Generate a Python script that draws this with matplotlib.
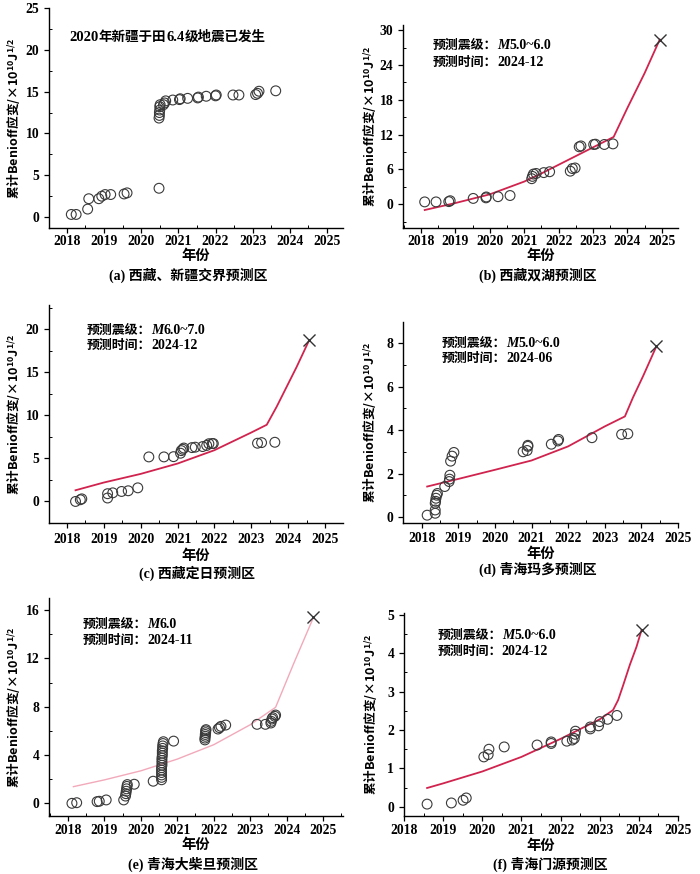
import matplotlib
matplotlib.use('Agg')
import matplotlib.pyplot as plt
from matplotlib.ticker import MultipleLocator
from matplotlib.offsetbox import TextArea, HPacker, AnchoredOffsetbox

plt.rcParams['font.family'] = ['Liberation Serif', 'Noto Sans CJK SC']
plt.rcParams['font.weight'] = 'bold'
plt.rcParams['mathtext.fontset'] = 'custom'
plt.rcParams['mathtext.rm'] = 'Liberation Serif:bold'
plt.rcParams['mathtext.it'] = 'Liberation Serif:italic:bold'
plt.rcParams['mathtext.bf'] = 'Liberation Serif:bold'

# ---------------- data ----------------
year_ticks = [2018, 2019, 2020, 2021, 2022, 2023, 2024, 2025]

a_year = [2018.12, 2018.25, 2018.56, 2018.59, 2018.86, 2018.94, 2019.03, 2019.18, 2019.54, 2019.62,
          2020.48, 2020.48, 2020.49, 2020.49, 2020.50, 2020.50, 2020.51, 2020.60, 2020.63, 2020.66,
          2020.85, 2021.03, 2021.05, 2021.25, 2021.52, 2021.54, 2021.75, 2022.00, 2022.02, 2022.47,
          2022.63, 2023.08, 2023.13, 2023.17, 2023.62]
a_val = [0.32, 0.32, 0.96, 2.2, 2.2, 2.5, 2.7, 2.7, 2.77, 2.9,
         3.45, 11.84, 12.16, 12.5, 12.8, 13.2, 13.44, 13.44, 13.65, 13.9,
         14.0, 14.05, 14.15, 14.2, 14.25, 14.35, 14.45, 14.5, 14.6, 14.6,
         14.6, 14.65, 14.8, 15.05, 15.1]

b_year = [2018.11, 2018.44, 2018.81, 2018.85, 2019.52, 2019.89, 2019.90, 2020.24, 2020.59, 2021.22,
          2021.24, 2021.27, 2021.35, 2021.57, 2021.74, 2022.34, 2022.40, 2022.48, 2022.60, 2022.65,
          2023.02, 2023.07, 2023.33, 2023.58]
b_val = [0.4, 0.4, 0.45, 0.6, 1.0, 1.1, 1.25, 1.3, 1.5, 4.4,
         4.8, 5.2, 5.3, 5.45, 5.6, 5.7, 6.15, 6.25, 9.9, 10.05,
         10.3, 10.35, 10.3, 10.4]
b_fit_year = [2018.11, 2019.0, 2020.0, 2021.0, 2021.5, 2022.0, 2022.5, 2023.0, 2023.6, 2024.0, 2024.5, 2024.94]
b_fit_val = [-1.0, 0.2, 1.7, 3.9, 5.3, 6.8, 8.3, 9.8, 11.6, 16.6, 22.6, 28.4]
b_pred = (2024.94, 28.4)

c_year = [2018.23, 2018.36, 2018.40, 2019.10, 2019.10, 2019.24, 2019.48, 2019.66, 2019.92, 2020.22,
          2020.63, 2020.89, 2021.08, 2021.10, 2021.14, 2021.17, 2021.39, 2021.48, 2021.68, 2021.79,
          2021.85, 2021.94, 2021.97, 2023.17, 2023.28, 2023.64]
c_val = [0.0, 0.2, 0.3, 0.4, 0.9, 1.0, 1.16, 1.24, 1.58, 5.17,
         5.17, 5.2, 5.6, 5.9, 6.06, 6.2, 6.25, 6.3, 6.37, 6.5,
         6.7, 6.72, 6.72, 6.76, 6.83, 6.87]
c_fit_year = [2018.23, 2019.0, 2020.0, 2021.0, 2022.0, 2023.0, 2023.42, 2023.69, 2023.96, 2024.23, 2024.57]
c_fit_val = [1.3, 2.2, 3.2, 4.4, 5.95, 8.0, 8.9, 11.0, 13.3, 15.6, 18.7]
c_pred = (2024.57, 18.7)

d_year = [2018.15, 2018.37, 2018.37, 2018.37, 2018.38, 2018.39, 2018.41, 2018.43, 2018.63, 2018.75,
          2018.76, 2018.77, 2018.79, 2018.83, 2018.88, 2020.77, 2020.88, 2020.90, 2020.90, 2021.54,
          2021.72, 2021.74, 2022.65, 2023.46, 2023.63]
d_val = [0.08, 0.17, 0.32, 0.63, 0.72, 0.86, 1.0, 1.08, 1.4, 1.63,
         1.74, 1.92, 2.57, 2.8, 2.97, 3.0, 3.06, 3.25, 3.3, 3.35,
         3.5, 3.57, 3.65, 3.8, 3.83]
d_fit_year = [2018.15, 2019.0, 2020.0, 2021.0, 2022.0, 2023.0, 2023.55, 2023.77, 2024.05, 2024.41]
d_fit_val = [1.4, 1.75, 2.17, 2.6, 3.25, 4.17, 4.63, 5.5, 6.5, 7.86]
d_pred = (2024.41, 7.86)

e_year = [2018.11, 2018.24, 2018.80, 2018.86, 2019.05, 2019.53, 2019.58, 2019.59, 2019.60, 2019.61,
          2019.62, 2019.63, 2019.82, 2020.34,
          2020.57, 2020.57, 2020.57, 2020.57, 2020.57, 2020.57, 2020.58, 2020.58, 2020.58, 2020.58,
          2020.59, 2020.59, 2020.59, 2020.60, 2020.60, 2020.61, 2020.62,
          2020.90,
          2021.76, 2021.76, 2021.77, 2021.77, 2021.78, 2021.78, 2021.79,
          2022.12, 2022.16, 2022.20, 2022.33, 2023.19, 2023.42,
          2023.57, 2023.58, 2023.60, 2023.62, 2023.68, 2023.70]
e_val = [0.0, 0.05, 0.14, 0.17, 0.28, 0.28, 0.6, 0.8, 1.0, 1.2,
         1.4, 1.55, 1.58, 1.83,
         1.95, 2.15, 2.35, 2.55, 2.75, 2.95, 3.15, 3.35, 3.55, 3.75,
         3.95, 4.15, 4.35, 4.55, 4.75, 4.95, 5.1,
         5.15,
         5.25, 5.4, 5.55, 5.7, 5.85, 6.0, 6.1,
         6.15, 6.26, 6.37, 6.48, 6.54, 6.54,
         6.65, 6.79, 6.98, 7.09, 7.2, 7.31]
e_fit_year = [2018.15, 2019.0, 2020.0, 2021.0, 2022.0, 2023.0, 2023.70, 2024.2, 2024.74]
e_fit_val = [1.38, 1.94, 2.69, 3.66, 4.85, 6.5, 7.95, 11.6, 15.4]
e_pred = (2024.74, 15.4)

f_year = [2018.59, 2019.21, 2019.51, 2019.59, 2020.04, 2020.15, 2020.17, 2020.56, 2021.40, 2021.76,
          2021.76, 2022.16, 2022.30, 2022.35, 2022.37, 2022.38, 2022.76, 2022.76, 2022.97, 2023.00,
          2023.20, 2023.44]
f_val = [0.07, 0.1, 0.17, 0.23, 1.3, 1.36, 1.5, 1.56, 1.61, 1.65,
         1.69, 1.71, 1.74, 1.78, 1.89, 1.97, 2.03, 2.08, 2.11, 2.22,
         2.28, 2.38]
f_fit_year = [2018.59, 2019.0, 2020.0, 2021.0, 2022.0, 2023.0, 2023.34, 2023.47, 2023.6, 2023.77, 2023.94, 2024.07]
f_fit_val = [0.49, 0.61, 0.92, 1.3, 1.77, 2.28, 2.52, 2.78, 3.17, 3.7, 4.17, 4.61]
f_pred = (2024.07, 4.61)

captions = ['(a) 西藏、新疆交界预测区', '(b) 西藏双湖预测区', '(c) 西藏定日预测区',
            '(d) 青海玛多预测区', '(e) 青海大柴旦预测区', '(f) 青海门源预测区']
mag_texts = [None, '5.0~6.0', '6.0~7.0', '5.0~6.0', '6.0', '5.0~6.0']
pred_times = [None, '2024-12', '2024-12', '2024-06', '2024-11', '2024-12']

# ---------------- layout (pixels) ----------------
W, H = 700, 874
fig = plt.figure(figsize=(7.0, 8.74), dpi=100)

def px_axes(l, r, t, b):
    return fig.add_axes([l / W, (H - b) / H, (r - l) / W, (b - t) / H])

panels = [
    dict(box=(49, 343, 8, 228), xlim=(2017.52, 2025.43), ylim=(-1.3, 25.0), major=5, minor=2.5,
         pad=1.5, xl=28, cap=(188, 275), yl=-0.116),
    dict(box=(403, 678, 25, 228), xlim=(2017.48, 2025.47), ylim=(-4.1, 30.9), major=6, minor=3,
         pad=1.5, xl=28, cap=(538, 275), yl=-0.12),
    dict(box=(49, 343, 305, 523), xlim=(2017.51, 2025.49), ylim=(-2.5, 22.8), major=5, minor=2.5,
         pad=4.0, xl=33, cap=(197, 573), yl=-0.116),
    dict(box=(403, 678, 322, 523), xlim=(2017.49, 2025.0), ylim=(-0.28, 8.98), major=2, minor=1,
         pad=3.0, xl=31, cap=(538, 569), yl=-0.12),
    dict(box=(49, 343, 598, 816), xlim=(2017.48, 2025.55), ylim=(-1.05, 17.0), major=4, minor=2,
         pad=2.5, xl=29, cap=(193, 864), yl=-0.116),
    dict(box=(404, 678, 613, 816), xlim=(2018.0, 2025.0), ylim=(-0.24, 5.05), major=1, minor=0.5,
         pad=2.5, xl=30, cap=(550, 864), yl=-0.12),
]

pts = [(a_year, a_val), (b_year, b_val), (c_year, c_val), (d_year, d_val), (e_year, e_val), (f_year, f_val)]
fits = [None, (b_fit_year, b_fit_val), (c_fit_year, c_fit_val), (d_fit_year, d_fit_val),
        (e_fit_year, e_fit_val), (f_fit_year, f_fit_val)]
preds = [None, b_pred, c_pred, d_pred, e_pred, f_pred]
fit_colors = [None, '#d0234e', '#d0234e', '#d0234e', '#f2a9ba', '#d0234e']
fit_widths = [None, 1.3, 1.3, 1.3, 1.0, 1.3]
ann_pos = [(0.069, 0.87, None), (0.109, 0.90, 0.818), (0.129, 0.885, 0.817),
           (0.141, 0.897, 0.819), (0.115, 0.881, 0.807), (0.122, 0.892, 0.813)]

ylabel = r'累计Benioff应变/×10$^{\mathregular{10}}$J$^{\mathregular{1/2}}$'

def add_line(ax, parts, x, y, scale=1.0):
    children = []
    for s, style in parts:
        if style == 'cjk':
            tp = dict(family='Noto Sans CJK SC', weight='bold', size=9.3 * scale)
        elif style == 'it':
            tp = dict(family='Liberation Serif', weight='bold', style='italic', size=10 * scale)
        else:
            tp = dict(family='Liberation Serif', weight='bold', size=10 * scale)
        children.append(TextArea(s, textprops=tp))
    box = HPacker(children=children, sep=0, pad=0, align='baseline')
    ab = AnchoredOffsetbox(loc='center left', child=box, bbox_to_anchor=(x, y),
                           bbox_transform=ax.transAxes, frameon=False, pad=0, borderpad=0)
    ax.add_artist(ab)

for i, p in enumerate(panels):
    ax = px_axes(*p['box'])
    ax.set_xlim(*p['xlim'])
    ax.set_ylim(*p['ylim'])
    for s in ['top', 'right']:
        ax.spines[s].set_visible(False)
    for s in ['left', 'bottom']:
        ax.spines[s].set_linewidth(1.0)
    ax.set_xticks(year_ticks)
    ax.set_xticklabels([str(y) for y in year_ticks])
    ax.xaxis.set_minor_locator(MultipleLocator(0.5))
    ax.yaxis.set_major_locator(MultipleLocator(p['major']))
    ax.yaxis.set_minor_locator(MultipleLocator(p['minor']))
    ax.tick_params(which='major', direction='out', length=3.5, width=0.9, labelsize=9.8)
    ax.tick_params(which='minor', direction='in', length=2.2, width=0.7)
    ax.tick_params(axis='x', which='major', pad=p['pad'])
    for lab in ax.get_xticklabels() + ax.get_yticklabels():
        lab.set_fontweight('bold')

    if fits[i] is not None:
        fx, fy = fits[i]
        ax.plot(fx, fy, color=fit_colors[i], lw=fit_widths[i], zorder=2)
        ax.scatter([preds[i][0]], [preds[i][1]], marker='x', s=75, color='#333333',
                   linewidths=1.0, zorder=4)

    xs, ys = pts[i]
    ax.scatter(xs, ys, s=50, facecolors='none', edgecolors='#3a3a3a', linewidths=0.8, zorder=3)

    ax.text(0.5, -p['xl'] / (p['box'][3] - p['box'][2]), '年份', transform=ax.transAxes,
            ha='center', va='center', family='Noto Sans CJK SC', weight='bold', size=10.3)
    ax.text(p['yl'], 0.5, ylabel, transform=ax.transAxes, rotation=90, ha='center', va='center',
            family='Noto Sans CJK SC', weight='bold', size=9.1)

    fig.text(p['cap'][0] / W, (H - p['cap'][1]) / H, captions[i], ha='center', va='center',
             family=['Liberation Serif', 'Noto Sans CJK SC'], weight='bold', size=10)

    x0, y1, y2 = ann_pos[i]
    if i == 0:
        add_line(ax, [('2020', 'rm'), ('年新疆于田', 'cjk'), ('6.4', 'rm'), ('级地震已发生', 'cjk')], x0, y1, 1.05)
    else:
        add_line(ax, [('预测震级：', 'cjk'), ('M', 'it'), (mag_texts[i], 'rm')], x0, y1)
        add_line(ax, [('预测时间：', 'cjk'), (pred_times[i], 'rm')], x0, y2)

fig.savefig('out.png', dpi=100)
